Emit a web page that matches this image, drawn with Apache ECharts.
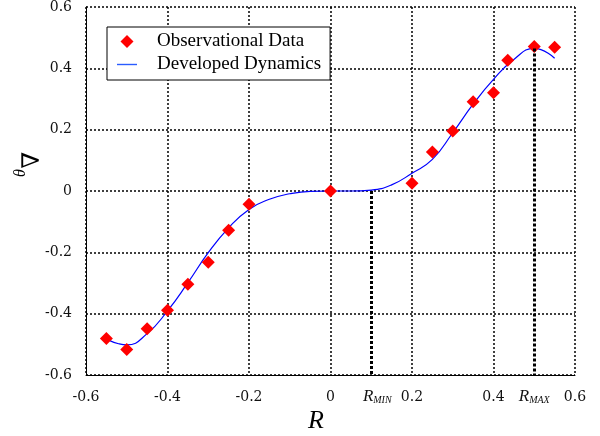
<!DOCTYPE html>
<html>
<head>
<meta charset="utf-8">
<script src="https://cdn.jsdelivr.net/npm/echarts@6/dist/echarts.min.js"></script>
<style>
  html, body { margin: 0; padding: 0; background: #fff; }
  #chart { width: 600px; height: 436px; }
</style>
</head>
<body>
<div id="chart"></div>
<script>
// observed points
var obsR = [-0.55, -0.5, -0.45, -0.4, -0.35, -0.3, -0.25, -0.2, 0, 0.2, 0.25, 0.3, 0.35, 0.4, 0.435, 0.5, 0.55]
var obsTheta = [-0.481, -0.517, -0.449, -0.389, -0.304, -0.232, -0.128, -0.043, 0, 0.025, 0.127, 0.196, 0.291, 0.32, 0.426, 0.471, 0.469]

// fitted curve
var curveR = [-0.543, -0.52, -0.5, -0.45, -0.4, -0.35, -0.3, -0.25, -0.2, -0.15, -0.1, -0.05, 0, 0.05, 0.1, 0.15, 0.2, 0.25, 0.3, 0.35, 0.4, 0.45, 0.5, 0.55]
var curveTheta = [-0.487, -0.498, -0.502, -0.465, -0.391, -0.299, -0.201, -0.12, -0.06, -0.027, -0.009, -0.001, 0, 0, 0.003, 0.02, 0.058, 0.103, 0.19, 0.283, 0.364, 0.429, 0.465, 0.433]

var R_MIN = 0.1
var R_MAX = 0.5
var rMaxTop = 0.465

var xTicks = [-0.6, -0.4, -0.2, 0, 0.2, 0.4, 0.6]
var xTickLabels = ['-0.6', '-0.4', '-0.2', '0', '0.2', '0.4', '0.6']
var yTicks = [-0.6, -0.4, -0.2, 0, 0.2, 0.4, 0.6]
var yTickLabels = ['-0.6', '-0.4', '-0.2', '0', '0.2', '0.4', '0.6']

function pick(ticks, labels, v) {
  for (var i = 0; i < ticks.length; i++) {
    if (Math.abs(ticks[i] - v) < 1e-6) return labels[i]
  }
  return ''
}

var serif = '"Liberation Serif", "Times New Roman", serif'
var tickFont = '"DejaVu Serif", serif'
var dotted = { color: '#000', width: 1.5, type: [2, 2] }

var myChart = echarts.init(document.getElementById('chart'), null, { renderer: 'canvas' })

var option = {
  animation: false,
  backgroundColor: '#fff',
  grid: { left: 86, right: 25, top: 6, bottom: 61, containLabel: false },
  legend: {
    left: 107,
    top: 27,
    orient: 'vertical',
    backgroundColor: '#fff',
    borderColor: '#000',
    borderWidth: 1,
    borderRadius: 0,
    padding: [5, 9, 6, 10],
    itemGap: 4,
    itemWidth: 20,
    itemHeight: 13,
    symbolKeepAspect: true,
    textStyle: { fontFamily: serif, fontSize: 19, color: '#000', padding: [0, 0, 0, 15] },
    data: [
      { name: 'Observational Data', icon: 'path://M0,-1L1,0L0,1L-1,0Z', itemStyle: { color: '#ff0000' } },
      { name: 'Developed Dynamics', icon: 'path://M0,0H20V1.4H0Z', itemStyle: { color: '#2a5cff' } }
    ]
  },
  xAxis: [
    {
      type: 'value',
      min: -0.6,
      max: 0.6,
      interval: 0.2,
      axisLine: { onZero: false, lineStyle: { color: '#000', width: 1 } },
      axisTick: { show: false },
      splitLine: { show: true, lineStyle: dotted },
      axisLabel: {
        margin: 15,
        color: '#111',
        fontFamily: tickFont,
        fontSize: 14,
        formatter: function (v) { return pick(xTicks, xTickLabels, v) }
      }
    },
    {
      type: 'value',
      position: 'bottom',
      min: -0.6,
      max: 0.6,
      interval: 0.1,
      axisLine: { show: false },
      axisTick: { show: false },
      splitLine: { show: false },
      axisLabel: {
        margin: 13,
        formatter: function (v) {
          if (Math.abs(v - R_MIN) < 1e-6) return '{p|R}{s|MIN}'
          if (Math.abs(v - R_MAX) < 1e-6) return '{r|R}{s|MAX}'
          return ''
        },
        rich: {
          p: { fontFamily: serif, fontStyle: 'italic', fontSize: 17, color: '#111', padding: [0, 0, 0, 12] },
          r: { fontFamily: serif, fontStyle: 'italic', fontSize: 17, color: '#111' },
          s: { fontFamily: serif, fontStyle: 'italic', fontSize: 10, color: '#111', verticalAlign: 'bottom', padding: [4, 0, 0, 0] }
        }
      }
    }
  ],
  yAxis: {
    type: 'value',
    min: -0.6,
    max: 0.6,
    interval: 0.2,
    axisLine: { show: true, onZero: false, lineStyle: { color: '#000', width: 1 } },
    axisTick: { show: false },
    splitLine: { show: true, lineStyle: dotted },
    axisLabel: {
      margin: 14,
      color: '#111',
      fontFamily: tickFont,
      fontSize: 14,
      formatter: function (v) { return pick(yTicks, yTickLabels, v) }
    }
  },
  graphic: [
    {
      type: 'text',
      x: 316,
      y: 421,
      style: { text: 'R', font: 'italic 26px ' + serif, fill: '#000', align: 'center', verticalAlign: 'middle' }
    },
    {
      type: 'text',
      x: 21,
      y: 173,
      rotation: Math.PI / 2,
      style: { text: 'θ', font: 'italic 16px ' + serif, fill: '#000', align: 'center', verticalAlign: 'middle' }
    },
    {
      type: 'text',
      x: 33,
      y: 160,
      rotation: Math.PI / 2,
      style: { text: '∇', font: '24px "DejaVu Serif", serif', fill: '#000', align: 'center', verticalAlign: 'middle' }
    }
  ],
  series: [
    {
      name: 'Developed Dynamics',
      type: 'line',
      smooth: true,
      symbol: 'none',
      z: 3,
      lineStyle: { color: '#0000ff', width: 1.2 },
      itemStyle: { color: '#0000ff' },
      data: curveR.map(function (r, i) { return [r, curveTheta[i]] }),
      markLine: {
        silent: true,
        symbol: 'none',
        label: { show: false },
        lineStyle: { color: '#000', width: 3, type: [3, 2] },
        data: [
          [{ coord: [R_MIN, 0] }, { coord: [R_MIN, -0.6] }],
          [{ coord: [R_MAX, rMaxTop] }, { coord: [R_MAX, -0.6] }]
        ]
      }
    },
    {
      name: 'Observational Data',
      type: 'scatter',
      symbol: 'diamond',
      symbolSize: 13,
      z: 4,
      itemStyle: { color: '#ff0000', opacity: 1 },
      data: obsR.map(function (r, i) { return [r, obsTheta[i]] })
    }
  ]
}

myChart.setOption(option)
</script>
</body>
</html>
